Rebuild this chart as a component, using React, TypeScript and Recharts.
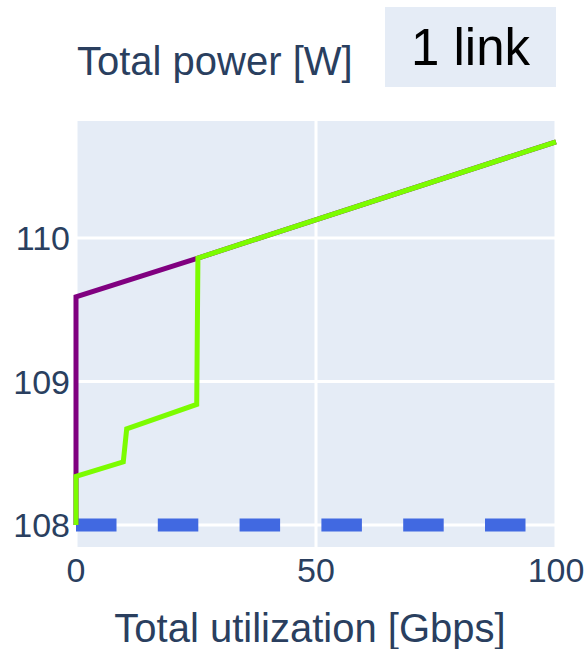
import { LineChart, Line, XAxis, YAxis, CartesianGrid } from "recharts";

// step curve with the link switched on the whole time
const purpleX = [0, 0, 25.4, 100];
const purpleY = [108, 109.59, 109.86, 110.67];

// link switched on after the ramp
const greenX = [0, 0, 9.85, 10.56, 25.15, 25.4, 100];
const greenY = [108, 108.34, 108.44, 108.67, 108.84, 109.86, 110.67];

// dashed base line
const baseX = [0, 100];
const baseY = [108, 108];

const xTicks = [0, 50, 100];
const yTicks = [108, 109, 110];

const toPoints = (xs: number[], ys: number[]) =>
  xs.map((x, i) => ({ x, y: ys[i] }));

const FONT = '"Liberation Sans", Arial, sans-serif';
const TEXT = "#2a3f5f";

export default function App() {
  const purple = toPoints(purpleX, purpleY);
  const green = toPoints(greenX, greenY);
  const base = toPoints(baseX, baseY);

  return (
    <div
      style={{
        position: "absolute",
        left: 0,
        top: 0,
        width: 588,
        height: 649,
        background: "#fff",
        fontFamily: FONT,
      }}
    >
      <LineChart
        width={588}
        height={649}
        margin={{ top: 121, right: 32, left: 0, bottom: 62 }}
      >
        <CartesianGrid
          fill="#E5ECF6"
          stroke="#fff"
          strokeWidth={3}
          horizontalValues={yTicks}
          verticalValues={xTicks}
        />
        <XAxis
          type="number"
          dataKey="x"
          domain={[0, 100]}
          ticks={xTicks}
          axisLine={false}
          tickLine={false}
          tickSize={0}
          tickMargin={11}
          height={40}
          tick={{ fontSize: 34, fill: TEXT, fontFamily: FONT }}
        />
        <YAxis
          type="number"
          dataKey="y"
          domain={[107.847, 110.815]}
          ticks={yTicks}
          axisLine={false}
          tickLine={false}
          tickSize={0}
          tickMargin={6}
          width={76}
          tick={{ fontSize: 34, fill: TEXT, fontFamily: FONT }}
        />
        <Line
          data={base}
          dataKey="y"
          type="linear"
          stroke="#4169E1"
          strokeWidth={13}
          strokeDasharray="40.5 41.3"
          dot={false}
          isAnimationActive={false}
        />
        <Line
          data={purple}
          dataKey="y"
          type="linear"
          stroke="#800080"
          strokeWidth={5}
          dot={false}
          isAnimationActive={false}
        />
        <Line
          data={green}
          dataKey="y"
          type="linear"
          stroke="#7CFC00"
          strokeWidth={5}
          dot={false}
          isAnimationActive={false}
        />
      </LineChart>
      <svg
        width={588}
        height={649}
        style={{ position: "absolute", left: 0, top: 0, pointerEvents: "none" }}
      >
        <text x={77} y={75} fontSize={40} fill={TEXT} fontFamily={FONT}>
          Total power [W]
        </text>
        <rect x={385} y={7} width={171} height={80} fill="#E5ECF6" />
        <text
          x={470.5}
          y={65}
          fontSize={51}
          fill="#000"
          fontFamily={FONT}
          textAnchor="middle"
        >
          1 link
        </text>
        <text
          x={310}
          y={642}
          fontSize={40}
          fill={TEXT}
          fontFamily={FONT}
          textAnchor="middle"
        >
          Total utilization [Gbps]
        </text>
      </svg>
    </div>
  );
}
